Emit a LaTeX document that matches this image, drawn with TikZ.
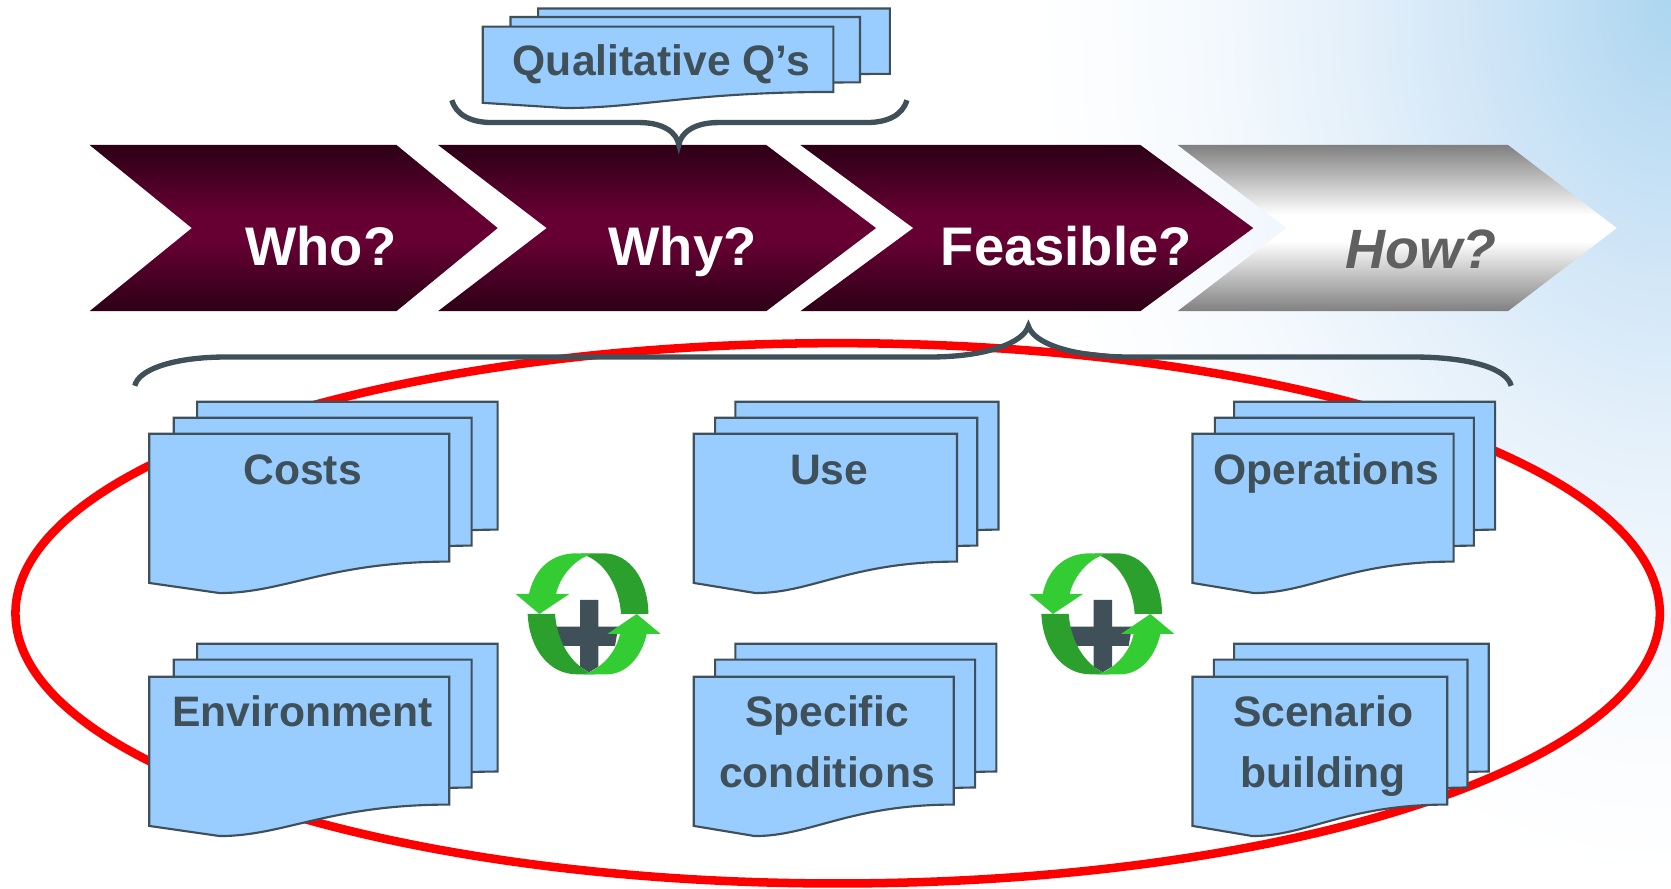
\documentclass[tikz,border=0pt]{standalone}
\usepackage{fontspec}
\setmainfont{Liberation Sans}
\definecolor{slate}{HTML}{3F5059}
\definecolor{sheetfill}{HTML}{99CCFF}
\definecolor{lightgr}{HTML}{33CC33}
\definecolor{darkgr}{HTML}{2CA02C}
\pgfdeclareverticalshading{wine}{100bp}{color(0bp)=({rgb,255:red,44;green,0;blue,22});color(25bp)=({rgb,255:red,44;green,0;blue,22});color(46bp)=({rgb,255:red,102;green,0;blue,51});color(54bp)=({rgb,255:red,102;green,0;blue,51});color(75bp)=({rgb,255:red,44;green,0;blue,22});color(100bp)=({rgb,255:red,44;green,0;blue,22})}
\pgfdeclareverticalshading{steel}{100bp}{color(0bp)=({rgb,255:red,128;green,128;blue,128});color(25bp)=({rgb,255:red,128;green,128;blue,128});color(46bp)=(white);color(54bp)=(white);color(75bp)=({rgb,255:red,128;green,128;blue,128});color(100bp)=({rgb,255:red,128;green,128;blue,128})}
\pgfdeclareradialshading{skyglow}{\pgfpoint{0bp}{0bp}}{color(0bp)=({rgb,255:red,172;green,214;blue,240});color(6.25bp)=({rgb,255:red,203;green,227;blue,246});color(12.5bp)=({rgb,255:red,228;green,240;blue,250});color(18.75bp)=({rgb,255:red,246;green,250;blue,254});color(25bp)=(white);color(50bp)=(white)}
\tikzset{
  x=1pt,y=-1pt,
  sheetbox/.style={draw=slate,line width=2pt,fill=sheetfill,line join=miter},
  bracket/.style={draw=slate,line width=5pt},
  lbl/.style={anchor=base,inner sep=0pt,text=slate,font=\fontsize{40}{57}\selectfont\bfseries,align=center},
  chevlbl/.style={anchor=base,inner sep=0pt,text=white,font=\fontsize{51}{60}\selectfont\bfseries},
  wineshape/.style={shading=wine},
  steelshape/.style={shading=steel},
}
\newcommand\sheet[4][140]{%
  \pgfmathsetmacro\sw{#3-#2}%
  \pgfmathsetmacro\sxa{#2+.235*\sw}%
  \pgfmathsetmacro\sxb{#2+.45*\sw}%
  \pgfmathsetmacro\sxc{#2+.6*\sw}%
  \pgfmathsetmacro\syl{#4+#1}%
  \pgfmathsetmacro\syr{#4+.857*#1}%
  \pgfmathsetmacro\syb{#4+1.068*#1}%
  \draw[sheetbox] (#2,#4) -- (#3,#4) -- (#3,\syr) .. controls (\sxc,\syr) and (\sxb,\syb) .. (\sxa,\syb) -- (#2,\syl) -- cycle;%
}
\newcommand\recycle[2]{%
  \begin{scope}[shift={(#1,#2)},x=0.3128pt,y=-0.3128pt]
    \fill[slate] (300,240) -- (355,240) -- (355,320) -- (415,320) -- (405,378) -- (355,378) -- (355,440) -- (327,457) -- (300,440) -- (300,378) -- (245,378) -- (228,320) -- (300,320) -- cycle;
    \fill[darkgr] (300,100) -- (370,100) .. controls (450,100) and (505,180) .. (505,282) -- (423,282) .. controls (418,200) and (375,130) .. (320,108) -- cycle;
    \fill[lightgr] (147,222) .. controls (165,140) and (220,100) .. (290,100) -- (330,103) -- (320,108) .. controls (280,125) and (240,170) .. (228,222) -- (268,222) -- (178,282) -- (107,222) -- cycle;
    \fill[darkgr] (143,282) .. controls (148,390) and (210,463) .. (290,463) -- (345,463) -- (327,457) .. controls (275,430) and (232,370) .. (225,282) -- cycle;
    \fill[lightgr] (327,457) .. controls (375,435) and (410,390) .. (420,342) -- (382,342) -- (470,282) -- (542,342) -- (500,342) .. controls (485,410) and (440,463) .. (380,463) -- (310,463) -- cycle;
  \end{scope}%
}
\begin{document}
\begin{tikzpicture}
\useasboundingbox (0,0) rectangle (1568,833.26);
\fill[white] (0,0) rectangle (1568,833.26);
\begin{scope}
  \clip (0,0) rectangle (1568,833.26);
  \shade[shading=skyglow] (1568,0) ellipse [x radius=600pt,y radius=820pt];
  \draw[red,line width=8pt,fill=white] (786,575.5) ellipse [x radius=771.5pt,y radius=253.5pt];
\end{scope}
% chevrons
\path[wineshape] (84,136) -- (372,136) -- (467,214) -- (372,292) -- (84,292) -- (180,214) -- cycle;
\path[wineshape] (411,136) -- (719,136) -- (822,214) -- (719,292) -- (411,292) -- (513,214) -- cycle;
\path[wineshape] (751,136) -- (1070,136) -- (1176,214) -- (1070,292) -- (751,292) -- (857,214) -- cycle;
\path[steelshape] (1105,136) -- (1415,136) -- (1517,214) -- (1415,292) -- (1105,292) -- (1207,214) -- cycle;
\node[chevlbl] (who) at (301,249) {Who?};
\node[chevlbl] (why) at (640.5,249) {Why?};
\node[chevlbl] (feas) at (1000.5,249) {Feasible?};
\node[chevlbl,text={rgb,255:red,96;green,96;blue,96},font=\fontsize{52}{60}\selectfont\bfseries\itshape] (how) at (1333,252) {How?};
% braces
\draw[bracket] (424,94) .. controls (428,108) and (442,115) .. (462,115) -- (600,115) .. controls (622,115) and (635,124) .. (637,136) .. controls (639,124) and (652,115) .. (674,115) -- (813,115) .. controls (833,115) and (847,108) .. (851,94);
\draw[bracket] (126.5,362) .. controls (130,346) and (165,335) .. (212,335) -- (872,335) .. controls (925,335) and (960,322) .. (965,306) .. controls (970,322) and (1005,335) .. (1060,335) -- (1326,335) .. controls (1380,335) and (1414,346) .. (1418,362);
% qualitative stack
\sheet[71.5]{505}{835}{8}
\sheet[71.5]{479}{807}{16}
\sheet[71.5]{453}{782}{25}
\node[lbl] (qual) at (620.5,70.5) {Qualitative Q’s};
% top row
\sheet{185}{467}{377}
\sheet{163}{442.5}{392}
\sheet{140}{421.5}{407}
\node[lbl] (costs) at (284,455) {Costs};
\sheet{690}{937}{377}
\sheet{671}{917}{392}
\sheet{651}{898}{407}
\node[lbl] (use) at (778,455) {Use};
\sheet{1158}{1403}{377}
\sheet{1140}{1383}{392}
\sheet{1119}{1364}{407}
\node[lbl] (ops) at (1244.5,455) {Operations};
% bottom row
\sheet{185}{467}{604}
\sheet{163}{442.5}{619}
\sheet{140}{421.5}{635}
\node[lbl] (env) at (284,682) {Environment};
\sheet{690}{935}{604}
\sheet{671}{915}{619}
\sheet{651}{895}{635}
\node[lbl,anchor=north] (spec) at (776,652.5) {Specific\\conditions};
\sheet{1158}{1397}{604}
\sheet{1139}{1377}{619}
\sheet{1119}{1358}{635}
\node[lbl,anchor=north] (scen) at (1241.5,652.5) {Scenario\\building};
% icons
\recycle{450.4}{487.9}
\recycle{932.4}{487.9}
\end{tikzpicture}
\end{document}
